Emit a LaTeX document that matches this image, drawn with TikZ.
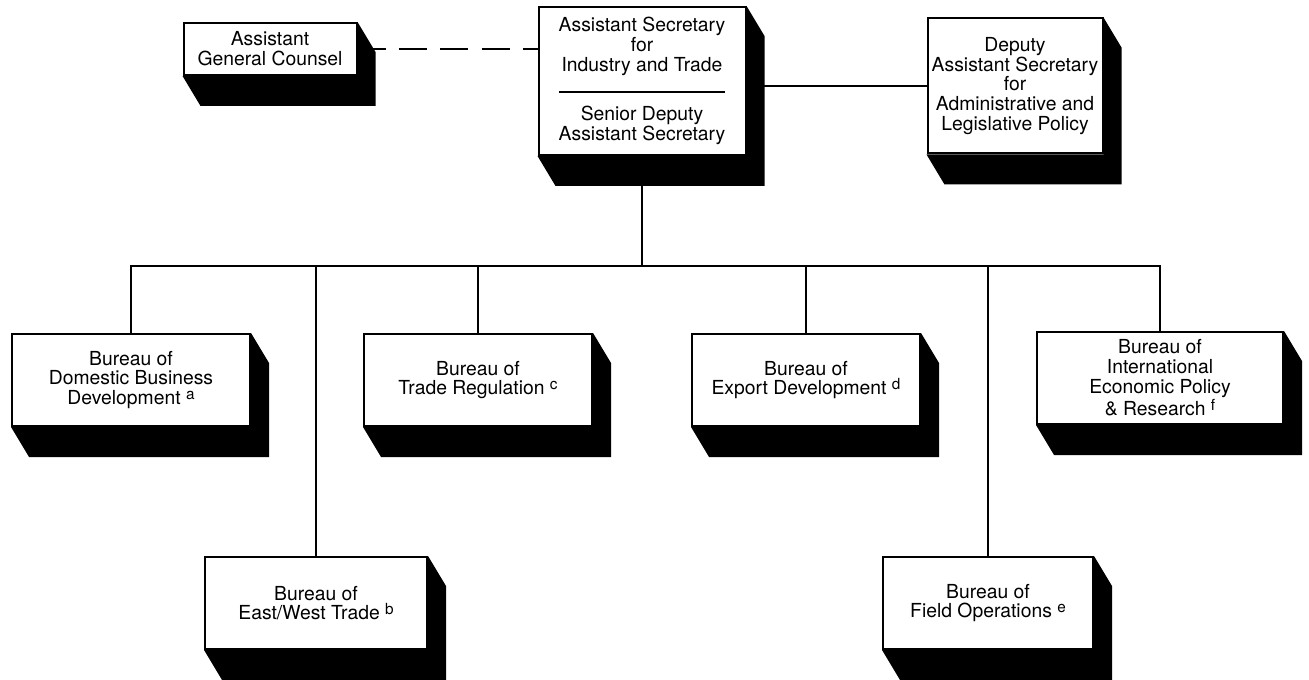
\documentclass[tikz,border=0pt]{standalone}
\usepackage{fontspec}
\setmainfont{TeX Gyre Heros}

\newcommand{\fnmark}[1]{\raisebox{0.55ex}{\fontsize{11.5}{11.5}\selectfont #1}}

\tikzset{
   unit/.style 2 args={draw, line width=1.5pt, fill=white, align=center, inner sep=0pt,
      minimum width=#1*0.75pt, minimum height=#2*0.75pt,
      font={\fontsize{14.5}{14.8}\selectfont}},
   link/.style={line width=1.6pt},
}

\begin{document}
\begin{tikzpicture}[x=0.75pt,y=-0.75pt] % 1309 x 680, y downwards
   \useasboundingbox (0,0) rectangle (1309,680);
   % top row
   \node[unit={173}{52}] (agc) at (270,49) {Assistant\\General Counsel};
   \node[unit={207}{148}] (asit) at (642,81) {Assistant Secretary\\for\\Industry and Trade\\[1.5pt]\rule{124pt}{1.8pt}\\[6pt]Senior Deputy\\Assistant Secretary};
   \node[unit={175}{135}] (dep) at (1015,86) {Deputy\\Assistant Secretary\\for\\Administrative and\\Legislative Policy};
   % bureaus
   \node[unit={238}{92}] (dom) at (131,380) {Bureau of\\Domestic Business\\Development \fnmark{a}};
   \node[unit={228}{92}] (trade) at (478,380) {Bureau of\\Trade Regulation \fnmark{c}};
   \node[unit={228}{92}] (exp) at (806,380) {Bureau of\\Export Development \fnmark{d}};
   \node[unit={246}{92}] (intl) at (1160,378) {Bureau of\\International\\Economic Policy\\\& Research \fnmark{f}};
   \node[unit={222}{92}] (ew) at (316,603) {Bureau of\\East/West Trade \fnmark{b}};
   \node[unit={210}{92}] (field) at (988,603) {Bureau of\\Field Operations \fnmark{e}};
   \coordinate (bus) at (642,266);
   % connectors
   \draw[link, line width=2.2pt, dash pattern=on 21pt off 10pt] (agc.east) -- (agc.east -| asit.west);
   \draw[link] (dep.west) -- (dep.west -| asit.east);
   \draw[link] (asit.south) -- (bus);
   \draw[link] (dom.north) |- (bus) -| (intl.north);
   \foreach \n in {ew,trade,exp,field}
      \draw[link] (\n.north |- bus) -- (\n.north);
   % shadows
   \foreach \n in {agc,asit,dep,dom,trade,exp,intl,ew,field}
      \fill (\n.north east) -- ++(18,30) -- ([shift={(18,30)}]\n.south east)
         -- ([shift={(18,30)}]\n.south west) -- (\n.south west) -- (\n.south east) -- cycle;
\end{tikzpicture}
\end{document}
